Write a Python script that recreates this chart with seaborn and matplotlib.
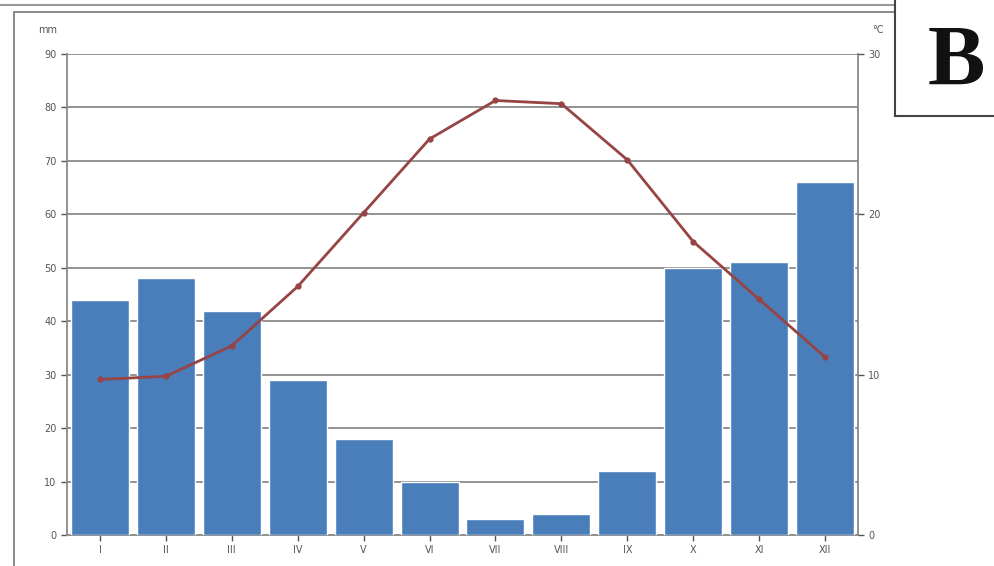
import matplotlib
matplotlib.use("Agg")
import matplotlib.pyplot as plt
import seaborn as sns
import pandas as pd
from matplotlib.patches import Rectangle
from matplotlib.lines import Line2D

months = ["I", "II", "III", "IV", "V", "VI", "VII", "VIII", "IX", "X", "XI", "XII"]
precip_mm = [44, 48, 42, 29, 18, 10, 3, 4, 12, 50, 51, 66]
temp_c = [9.7, 9.9, 11.8, 15.5, 20.1, 24.7, 27.1, 26.9, 23.4, 18.3, 14.7, 11.1]
left_ticks = [0, 10, 20, 30, 40, 50, 60, 70, 80, 90]
right_ticks = [0, 10, 20, 30]

df = pd.DataFrame({"month": months, "precip": precip_mm, "temp": temp_c})

sns.set_style("white")
fig = plt.figure(figsize=(9.95, 5.66), dpi=100)
ax = fig.add_axes([67/995, 1-535/566, (858-67)/995, (535-54)/566])

sns.barplot(data=df, x="month", y="precip", color="#4a7ebb", saturation=1,
            width=0.88, ax=ax, zorder=3)
ax.set_ylim(0, 90)
ax.set_yticks(left_ticks)
ax.set_xlim(-0.5, 11.5)
ax.grid(axis="y", color="#8a8a8a", linewidth=1.3, zorder=0)
ax.set_axisbelow(True)
ax.set_xlabel("")
ax.set_ylabel("")
for s in ["top"]:
    ax.spines[s].set_visible(False)
for s in ["left", "right", "bottom"]:
    ax.spines[s].set_color("#8a8a8a")
    ax.spines[s].set_linewidth(1.3)
ax.tick_params(axis="both", labelsize=7, colors="#555555", length=4, width=1,
               direction="out", left=True, bottom=True)

ax2 = ax.twinx()
sns.pointplot(data=df, x="month", y="temp", color="#964444", markers="o",
              markersize=3, linewidth=2, ax=ax2, zorder=5)
ax2.set_ylim(0, 30)
ax2.set_yticks(right_ticks)
ax2.set_xlim(-0.5, 11.5)
ax2.set_ylabel("")
ax2.set_xlabel("")
ax2.tick_params(axis="y", labelsize=7, colors="#555555", length=4, width=1,
                direction="out", right=True)
for s in ["top", "left", "right", "bottom"]:
    ax2.spines[s].set_visible(False)

fig.text(38/995, 1-30/566, "mm", fontsize=7, color="#555555", ha="left", va="center")
fig.text(872/995, 1-30/566, "°C", fontsize=7, color="#555555", ha="left", va="center")

# outer frame
fig.add_artist(Rectangle((14/995, -0.01), 1.0, 1-12/566 + 0.01, transform=fig.transFigure,
                         fill=False, edgecolor="#777777", linewidth=1.2))
fig.add_artist(Line2D([0, 1], [1-5/566, 1-5/566], transform=fig.transFigure,
                      color="#999999", linewidth=1.5))

# "B" label box
fig.add_artist(Rectangle((895/995, 1-116/566), 0.2, 116/566 + 0.01, transform=fig.transFigure,
                         facecolor="white", edgecolor="#444444", linewidth=1.5, zorder=10))
fig.text(956/995, 1-64/566, "B", fontsize=62, fontweight="bold",
         family="Liberation Serif", color="#111111", ha="center", va="center", zorder=11)

fig.savefig("out.png", dpi=100)
